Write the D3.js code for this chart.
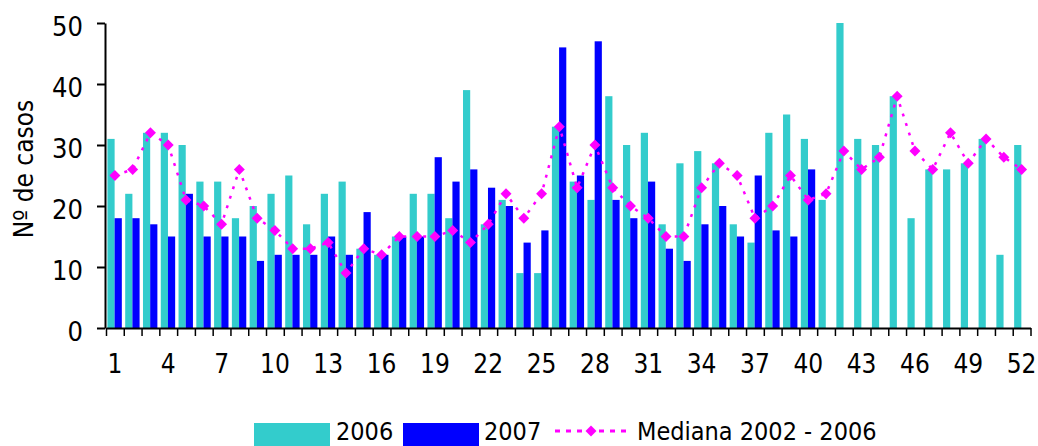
<!DOCTYPE html>
<html>
<head>
<meta charset="utf-8">
<script src="https://cdn.jsdelivr.net/npm/d3@7"></script>
<style>
  body { margin: 0; background: #fff; }
  svg text { font-family: "DejaVu Sans", sans-serif; font-stretch: condensed; fill: #000; }
</style>
</head>
<body>
<div id="chart"></div>
<script>
// semanas epidemiológicas
const weeks = d3.range(1, 53)
const labelWeeks = [1, 4, 7, 10, 13, 16, 19, 22, 25, 28, 31, 34, 37, 40, 43, 46, 49, 52]
const yTicks = [0, 10, 20, 30, 40, 50]

const cases2006 = [31, 22, 32, 32, 30, 24, 24, 18, 20, 22, 25, 17, 22, 24, 13, 12, 15, 22, 22, 18,
                   39, 17, 21, 9, 9, 33, 24, 21, 38, 30, 32, 17, 27, 29, 27, 17, 14, 32, 35, 31,
                   21, 50, 31, 30, 38, 18, 26, 26, 27, 31, 12, 30]
// 2007 only goes to week 40
const cases2007 = [18, 18, 17, 15, 22, 15, 15, 15, 11, 12, 12, 12, 15, 12, 19, 12, 15, 15, 28, 24,
                   26, 23, 20, 14, 16, 46, 25, 47, 21, 18, 24, 13, 11, 17, 20, 15, 25, 16, 15, 26]
const mediana = [25, 26, 32, 30, 21, 20, 17, 26, 18, 16, 13, 13, 14, 9, 13, 12, 15, 15, 15, 16,
                 14, 17, 22, 18, 22, 33, 23, 30, 23, 20, 18, 15, 15, 23, 27, 25, 18, 20, 25, 21,
                 22, 29, 26, 28, 38, 29, 26, 32, 27, 31, 28, 26]

const seriesNames = ["2006", "2007", "Mediana 2002 - 2006"]
const colors = { s2006: "#33CCCC", s2007: "#0000FF", med: "#FF00FF" }

const width = 1038, height = 446
const plot = { left: 106, right: 1030.5, top: 23, bottom: 328 }

const svg = d3.select("#chart").append("svg")
    .attr("width", width)
    .attr("height", height)

const x = d3.scaleBand()
    .domain(weeks)
    .range([plot.left, plot.right])
    .padding(0)

const xEdges = d3.scaleLinear()
    .domain([0, weeks.length])
    .range([plot.left, plot.right])

const y = d3.scaleLinear()
    .domain([0, 50])
    .range([plot.bottom, plot.top])

const bw = x.bandwidth()
const offset = bw * 0.08
const barW = bw * 0.405

// bars 2006
svg.append("g").selectAll("rect")
    .data(cases2006)
    .enter()
    .append("rect")
    .attr("x", (d, i) => x(weeks[i]) + offset)
    .attr("y", d => y(d))
    .attr("width", barW)
    .attr("height", d => plot.bottom - y(d))
    .attr("fill", colors.s2006)

// bars 2007
svg.append("g").selectAll("rect")
    .data(cases2007)
    .enter()
    .append("rect")
    .attr("x", (d, i) => x(weeks[i]) + offset + barW)
    .attr("y", d => y(d))
    .attr("width", barW)
    .attr("height", d => plot.bottom - y(d))
    .attr("fill", colors.s2007)

// median line
const line = d3.line()
    .x((d, i) => x(weeks[i]) + bw / 2)
    .y(d => y(d))

svg.append("path")
    .datum(mediana)
    .attr("d", line)
    .attr("fill", "none")
    .attr("stroke", colors.med)
    .attr("stroke-width", 2.5)
    .attr("stroke-dasharray", "3,7")

const diamond = d3.symbol().type(d3.symbolSquare).size(60)

svg.append("g").selectAll("path")
    .data(mediana)
    .enter()
    .append("path")
    .attr("d", diamond)
    .attr("transform", (d, i) => "translate(" + (x(weeks[i]) + bw / 2) + "," + y(d) + ") rotate(45)")
    .attr("fill", colors.med)

// x axis: ticks between weeks
const xTickAxis = svg.append("g")
    .attr("transform", "translate(0," + plot.bottom + ")")
    .call(d3.axisBottom(xEdges)
        .tickValues(d3.range(weeks.length + 1))
        .tickSize(8)
        .tickSizeOuter(0)
        .tickFormat(""))
xTickAxis.select(".domain").attr("stroke-width", 2)
xTickAxis.selectAll(".tick line").attr("stroke-width", 1.5)

const xLabelAxis = svg.append("g")
    .attr("transform", "translate(0," + plot.bottom + ")")
    .call(d3.axisBottom(x)
        .tickValues(labelWeeks)
        .tickSize(0)
        .tickPadding(27))
xLabelAxis.select(".domain").remove()
xLabelAxis.selectAll("text")
    .attr("font-size", 26)

// y axis
const yAxis = svg.append("g")
    .attr("transform", "translate(" + (plot.left - 1) + ",0)")
    .call(d3.axisLeft(y)
        .tickValues(yTicks)
        .tickSize(8)
        .tickSizeOuter(0)
        .tickPadding(14))
yAxis.select(".domain").attr("stroke-width", 2)
yAxis.selectAll(".tick line").attr("stroke-width", 2)
yAxis.selectAll("text")
    .attr("font-size", 27)
    .attr("dy", "0.45em")

svg.append("text")
    .attr("transform", "translate(33,169) rotate(-90)")
    .attr("text-anchor", "middle")
    .attr("font-size", 26)
    .text("Nº de casos")

// legend (kept just inside the bottom edge)
const legend = svg.append("g")
const legY = 440

legend.append("rect")
    .attr("x", 254).attr("y", legY - 17)
    .attr("width", 76).attr("height", 23)
    .attr("fill", colors.s2006)
legend.append("text")
    .attr("x", 336).attr("y", legY)
    .attr("font-size", 25)
    .text(seriesNames[0])

legend.append("rect")
    .attr("x", 403).attr("y", legY - 17)
    .attr("width", 76).attr("height", 23)
    .attr("fill", colors.s2007)
legend.append("text")
    .attr("x", 484).attr("y", legY)
    .attr("font-size", 25)
    .text(seriesNames[1])

legend.append("line")
    .attr("x1", 555).attr("x2", 630)
    .attr("y1", legY - 9).attr("y2", legY - 9)
    .attr("stroke", colors.med)
    .attr("stroke-width", 3)
    .attr("stroke-dasharray", "5,6")
legend.append("path")
    .attr("d", diamond)
    .attr("transform", "translate(591," + (legY - 9) + ") rotate(45)")
    .attr("fill", colors.med)
legend.append("text")
    .attr("x", 637).attr("y", legY)
    .attr("font-size", 25)
    .text(seriesNames[2])
</script>
</body>
</html>
